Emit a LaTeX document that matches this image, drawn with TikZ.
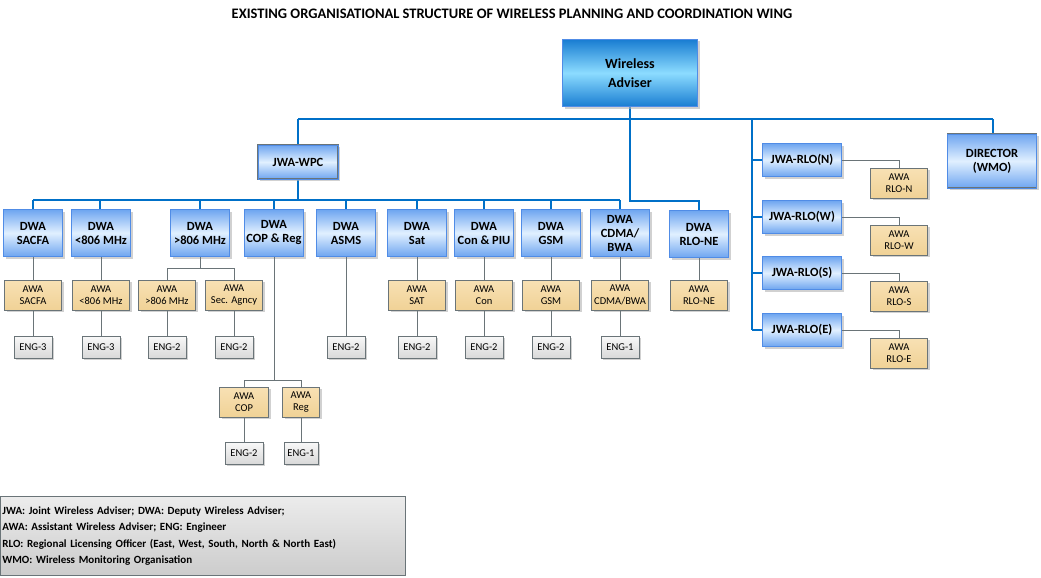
\documentclass[tikz,border=0pt]{standalone}
\usepackage{fontspec}
\setmainfont{Carlito}
\usetikzlibrary{shadows}
\definecolor{bl}{HTML}{0070C8}
\definecolor{gl}{HTML}{6A7478}
\begin{document}
\begin{tikzpicture}[x=1pt,y=-1pt,
 base/.style={draw=gl,inner sep=0pt,align=center,drop shadow={shadow xshift=2pt,shadow yshift=-2pt,fill=black!30,opacity=.6}},
 dwa/.style={base,line width=1.4pt,
   shading=axis,top color={rgb,255:red,110;green,165;blue,240},bottom color={rgb,255:red,110;green,165;blue,240},middle color={rgb,255:red,225;green,240;blue,255},
   font=\fontsize{12.5}{14}\selectfont\bfseries,minimum width=59pt,minimum height=47pt,
   postaction={draw={rgb,255:red,80;green,140;blue,230},line width=0.5pt}},
 jwa/.style={dwa,minimum width=80pt,minimum height=34pt},
 top/.style={dwa,top color={rgb,255:red,25;green,125;blue,210},bottom color={rgb,255:red,25;green,125;blue,210},middle color={rgb,255:red,140;green,220;blue,255},minimum width=135pt,minimum height=67pt,font=\fontsize{14}{19}\selectfont\bfseries},
 awa/.style={base,line width=0.8pt,top color={rgb,255:red,248;green,225;blue,180},bottom color={rgb,255:red,240;green,210;blue,150},font=\fontsize{10.5}{12.5}\selectfont,minimum width=57pt,minimum height=30pt},
 eng/.style={base,line width=0.8pt,top color=gray!5,bottom color=gray!30,font=\fontsize{10.5}{12}\selectfont,minimum width=38pt,minimum height=22pt},
 bline/.style={draw=bl,line width=1.6pt},
 gline/.style={draw=gl,line width=0.7pt}]
\useasboundingbox (0,0) rectangle (1041,578);
\node[font=\fontsize{14.5}{16}\selectfont\bfseries] (title) at (512,14) {EXISTING ORGANISATIONAL STRUCTURE OF WIRELESS PLANNING AND COORDINATION WING};
\coordinate (busL) at (298,119);
\coordinate (busR) at (993,119);
\draw[bline] (630,107) -- (630,119);
\draw[bline] (busL) -- (busR);
\draw[bline] (298,119) -- (298,145);
\draw[bline] (993,119) -- (993,134);
\draw[bline] (630,119) -- (630,201) -- (699,201) -- (699,210);
\draw[bline] (298,180) -- (298,200);
\draw[bline] (33,200) -- (620,200);
\foreach \x in {33,100,200,274,346,417,484,551,620} \draw[bline] (\x,200) -- (\x,210);
\draw[bline] (752,119) -- (752,330);
\foreach \y in {160,217,273,330} \draw[bline] (752,\y) -- (763,\y);

\node[top] (wa) at (630,73) {Wireless\\Adviser};
\node[jwa] (wpc) at (298,162) {JWA-WPC};
\node[dwa,minimum width=89pt,minimum height=54pt] (dir) at (992,161) {DIRECTOR\\(WMO)};

\node[dwa] (d1) at (33,233) {DWA\\SACFA};
\node[dwa] (d2) at (101,233) {DWA\\<806 MHz};
\node[dwa] (d3) at (200,233) {DWA\\>806 MHz};
\node[dwa] (d4) at (274,233) {DWA\\COP \& Reg};
\node[dwa] (d5) at (346,233) {DWA\\ASMS};
\node[dwa] (d6) at (417,233) {DWA\\Sat};
\node[dwa] (d7) at (484,233) {DWA\\Con \& PIU};
\node[dwa] (d8) at (551,233) {DWA\\GSM};
\node[dwa] (d9) at (620,233) {DWA\\CDMA/\\BWA};
\node[dwa] (d10) at (699,234) {DWA\\RLO-NE};

\foreach \n/\x/\t in {a1/33/SACFA,a2/101/<806 MHz,a3/167/>806 MHz,a4/234/Sec. Agncy,a6/417/SAT,a7/484/Con,a8/551/GSM,a10/699/RLO-NE}
  \node[awa] (\n) at (\x,295) {AWA\\\t};
\node[awa] (a9) at (620,295) {AWA\\CDMA/BWA};
\foreach \n/\x/\t in {e1/33/ENG-3,e2/101/ENG-3,e3/167/ENG-2,e4/234/ENG-2,e5/346/ENG-2,e6/417/ENG-2,e7/484/ENG-2,e8/551/ENG-2,e9/620/ENG-1}
  \node[eng] (\n) at (\x,347) {\t};
\node[awa,minimum width=49pt] (ac) at (244,402) {AWA\\COP};
\node[awa,minimum width=37pt] (ar) at (301,402) {AWA\\Reg};
\node[eng] (ec) at (244,453) {ENG-2};
\node[eng,minimum width=34pt] (er) at (301,453) {ENG-1};

\foreach \a/\b in {d1/a1,d2/a2,d6/a6,d7/a7,d8/a8,d9/a9,d10/a10,a1/e1,a2/e2,a3/e3,a4/e4,a6/e6,a7/e7,a8/e8,a9/e9,d5/e5,ac/ec,ar/er}
  \draw[gline] (\a.south) -- (\b.north);
\draw[gline] (d3.south) -- (200,268) -| (a3.north);
\draw[gline] (200,268) -| (a4.north);
\draw[gline] (d4.south) -- (274,380) -| (ac.north);
\draw[gline] (274,380) -| (ar.north);

\foreach \n/\y/\t/\k in {rn/160/N/183,rw/217/W/240,rs/273/S/296,re/330/E/353}{
  \node[jwa,minimum width=79pt,minimum height=33pt] (\n) at (802,\y) {JWA-RLO(\t)};
  \node[awa] (\n a) at (899,\k) {AWA\\RLO-\t};
  \draw[gline] (\n.east) -| (\n a.north);
}
\node[draw=gl,line width=0.8pt,top color=gray!15,bottom color=gray!40,anchor=north west,minimum height=79pt,text width=401pt,align=left,inner sep=2pt,font=\fontsize{11}{16.5}\selectfont\bfseries] (leg) at (0,496) {JWA: Joint Wireless Adviser; DWA: Deputy Wireless Adviser;\\AWA: Assistant Wireless Adviser; ENG: Engineer\\RLO: Regional Licensing Officer (East, West, South, North \& North East)\\WMO: Wireless Monitoring Organisation};
\end{tikzpicture}
\end{document}
